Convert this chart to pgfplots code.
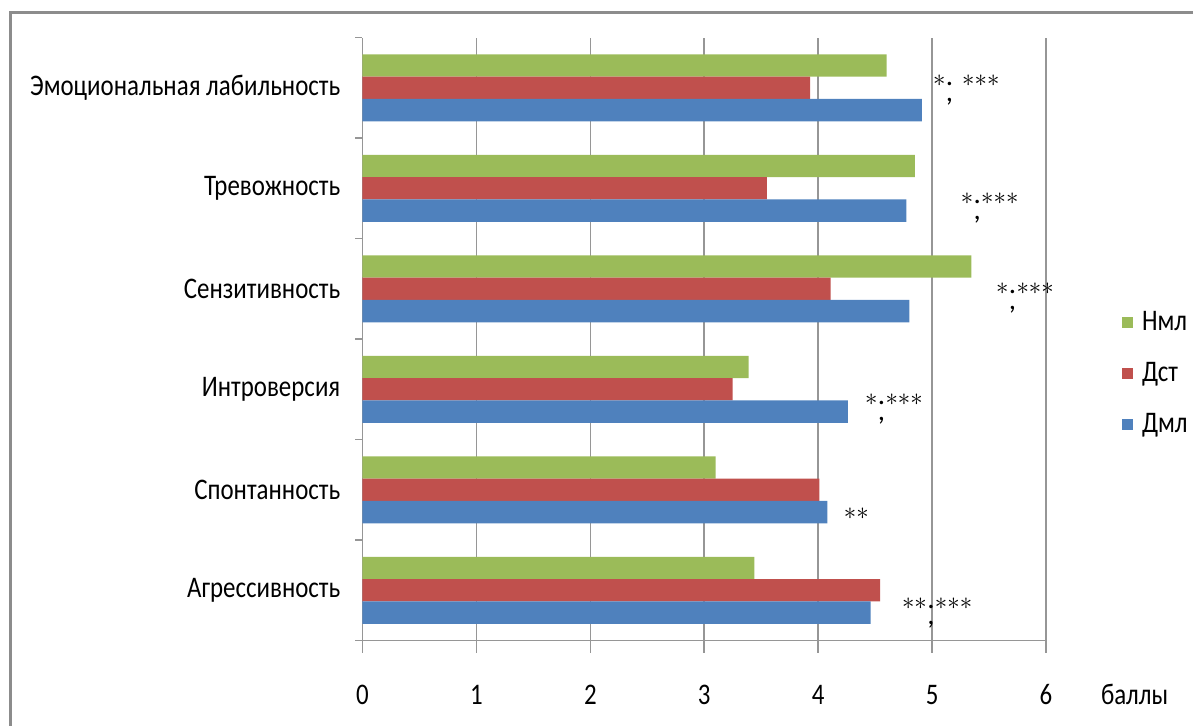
\documentclass[border=0pt]{standalone}
\usepackage{graphicx}
\usepackage{fontspec}
\setmainfont{Carlito}
\usepackage{pgfplots}
\usepackage{pgfplotstable}
\pgfplotsset{compat=1.18}
\definecolor{cN}{HTML}{9BBB59}
\definecolor{cD}{HTML}{C0504D}
\definecolor{cM}{HTML}{4F81BD}
\definecolor{gridc}{HTML}{969696}
\definecolor{framec}{HTML}{8C8C8C}
\newcommand\vs[1]{\scalebox{1}[1.2]{#1}}
\newcommand\sepc{\makebox[0.28em][c]{\rlap{\raisebox{0.05em}{.}}\raisebox{-0.5em}{,}}}
\newcommand\as{{\ast}}

\pgfplotstableread{
c v
0 3.44
1 3.10
2 3.39
3 5.345
4 4.85
5 4.60
}\tabN
\pgfplotstableread{
c v
0 4.545
1 4.01
2 3.25
3 4.11
4 3.55
5 3.93
}\tabD
\pgfplotstableread{
c v
0 4.46
1 4.08
2 4.26
3 4.80
4 4.775
5 4.91
}\tabM

\begin{document}
\fontsize{25}{30}\selectfont
\begin{tikzpicture}[x=1bp,y=1bp]
\useasboundingbox (0,0) rectangle (1193,726);
\draw[framec, line width=3bp] (10,0) -- (10,713) -- (1193,713);
\begin{axis}[
  at={(318.2,85)}, anchor=south west,
  scale only axis, width=683.5bp, height=603bp,
  xmin=0, xmax=6, ymin=-0.5, ymax=5.5,
  xbar, bar width=22.3bp,
  axis x line*=bottom, axis y line*=left,
  axis line style={gridc, line width=1.5bp, -},
  xtick={0,...,6},
  ytick={0,...,5},
  minor ytick={-0.5,0.5,...,5.5},
  tick align=outside,
  major tick length=12bp,
  minor tick length=7bp,
  xtick style={gridc, line width=1.5bp},
  ytick style={draw=none},
  minor y tick style={draw=gridc, line width=1.5bp},
  xmajorgrids,
  major grid style={gridc, line width=1.5bp},
  yticklabels={\vs{Агрессивность},\vs{Спонтанность},\vs{Интроверсия},\vs{Сензитивность},\vs{Тревожность},\vs{Эмоциональная лабильность}},
  yticklabel style={inner sep=0pt, xshift=-10bp, font=\fontsize{25}{30}\selectfont},
  /pgf/number format/assume math mode=true,
  xticklabel={\vs{\pgfmathprintnumber{\tick}}},
  xticklabel style={anchor=base, yshift=-52bp, font=\fontsize{25}{30}\selectfont},
  legend style={at={(1.111,0.4428)}, anchor=west, draw=none, fill=none,
     inner sep=0pt, nodes={inner sep=0pt}, column sep=9bp, row sep=28bp,
     font=\fontsize{25}{30}\selectfont},
  legend cell align=left,
  legend image code/.code={\fill[#1] (0bp,-5.5bp) rectangle (11bp,5.5bp);},
  clip=false,
]
\addplot[fill=cN, draw=none, bar shift=22.3bp] table[x=v, y=c] {\tabN};
\addlegendentry{\vs{Нмл}}
\addplot[fill=cD, draw=none, bar shift=0bp] table[x=v, y=c] {\tabD};
\addlegendentry{\vs{Дст}}
\addplot[fill=cM, draw=none, bar shift=-22.3bp] table[x=v, y=c] {\tabM};
\addlegendentry{\vs{Дмл}}

\begin{scope}[every node/.style={anchor=base west, inner sep=0pt, yshift=-7bp, font=\fontsize{29}{32}\selectfont}]
\node at (axis cs:5.007,5.08) {$\as$\sepc\hspace{0.3em}$\as\as\as$};
\node at (axis cs:5.25,3.908) {$\as$\sepc$\as\as\as$};
\node at (axis cs:5.56,3.01) {$\as$\sepc$\as\as\as$};
\node at (axis cs:4.41,1.908) {$\as$\sepc$\as\as\as$};
\node at (axis cs:4.225,0.774) {$\as\as$};
\node at (axis cs:4.735,-0.122) {$\as\as$\sepc$\as\as\as$};
\end{scope}
\node[anchor=base west, inner sep=0pt] at (rel axis cs:1.0802,-0.106) {\vs{баллы}};
\end{axis}
\end{tikzpicture}
\end{document}
